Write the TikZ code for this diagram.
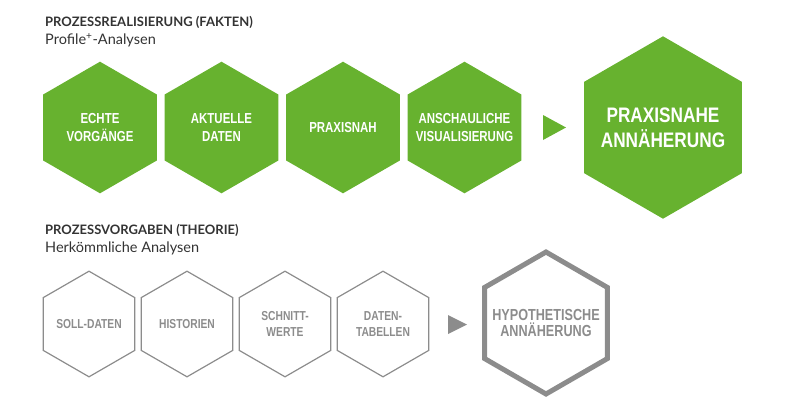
\documentclass[tikz,border=0pt]{standalone}
\usepackage{fontspec}
\setmainfont{Lato}
\newfontfamily\hexfont[FakeStretch=0.79]{Liberation Sans}
\newfontfamily\bighexfont[FakeStretch=0.82]{Liberation Sans}
\usetikzlibrary{shapes.geometric}
\definecolor{factgreen}{HTML}{67B22F}
\definecolor{theorygrey}{HTML}{8C8C8C}
\definecolor{headgrey}{HTML}{333333}
\tikzset{
	hexa/.style={regular polygon, regular polygon sides=6, shape border rotate=90, inner sep=0pt},
	hextext/.style={inner sep=0pt, align=center},
	facthex/.style={hexa, fill=factgreen, minimum size=131.6pt,
		label={[hextext, text=white, font=\hexfont\bfseries\fontsize{14.5}{17.7}\selectfont]center:#1}},
	factbig/.style={hexa, fill=factgreen, minimum size=182.4pt,
		label={[hextext, text=white, font=\bighexfont\bfseries\fontsize{21}{24.7}\selectfont]center:#1}},
	theoryhex/.style={hexa, draw=theorygrey, line width=1.2pt, minimum size=105.6pt,
		label={[hextext, text=theorygrey, font=\hexfont\bfseries\fontsize{13}{15.5}\selectfont]center:#1}},
	theorybig/.style={hexa, draw=theorygrey, line width=5pt, minimum size=142pt,
		label={[hextext, text=theorygrey, font=\hexfont\bfseries\fontsize{16}{16.7}\selectfont]center:#1}},
	headline/.style={anchor=base west, inner sep=0pt, text=headgrey, font=\bfseries\fontsize{13}{15}\selectfont},
	subline/.style={anchor=base west, inner sep=0pt, text=headgrey, font=\fontsize{14.5}{16}\selectfont}
}
\begin{document}
\begin{tikzpicture}[x=1pt,y=-1pt]
	\useasboundingbox (0,0) rectangle (800,416);
	% Fakten
	\node[headline] (facttitle) at (45,26) {PROZESSREALISIERUNG (FAKTEN)};
	\node[subline] (factsub) at (45,44.3) {Profile\textsuperscript{+}-Analysen};
	\node[facthex={ECHTE\\VORGÄNGE}] (echt) at (100,127.5) {};
	\node[facthex={AKTUELLE\\DATEN}] (aktuell) at (221.5,127.5) {};
	\node[facthex={PRAXISNAH}] (praxis) at (343,127.5) {};
	\node[facthex={ANSCHAULICHE\\VISUALISIERUNG}] (visual) at (464.5,127.5) {};
	\fill[factgreen] (543,115) -- (566,127.5) -- (543,140) -- cycle;
	\node[factbig={PRAXISNAHE\\ANNÄHERUNG}] (praxisnahe) at (663,127.5) {};
	
	% Theorie
	\node[headline] (theorytitle) at (45,234.3) {PROZESSVORGABEN (THEORIE)};
	\node[subline] (theorysub) at (45,252.3) {Herkömmliche Analysen};
	\node[theoryhex={SOLL-DATEN}] (soll) at (89,324) {};
	\node[theoryhex={HISTORIEN}] (histor) at (187,324) {};
	\node[theoryhex={SCHNITT-\\WERTE}] (schnitt) at (285,324) {};
	\node[theoryhex={DATEN-\\TABELLEN}] (tabellen) at (383,324) {};
	\fill[theorygrey] (448,315) -- (467,324.5) -- (448,334) -- cycle;
	\node[theorybig={HYPOTHETISCHE\\ANNÄHERUNG}] (hypo) at (546,323) {};
\end{tikzpicture}
\end{document}
